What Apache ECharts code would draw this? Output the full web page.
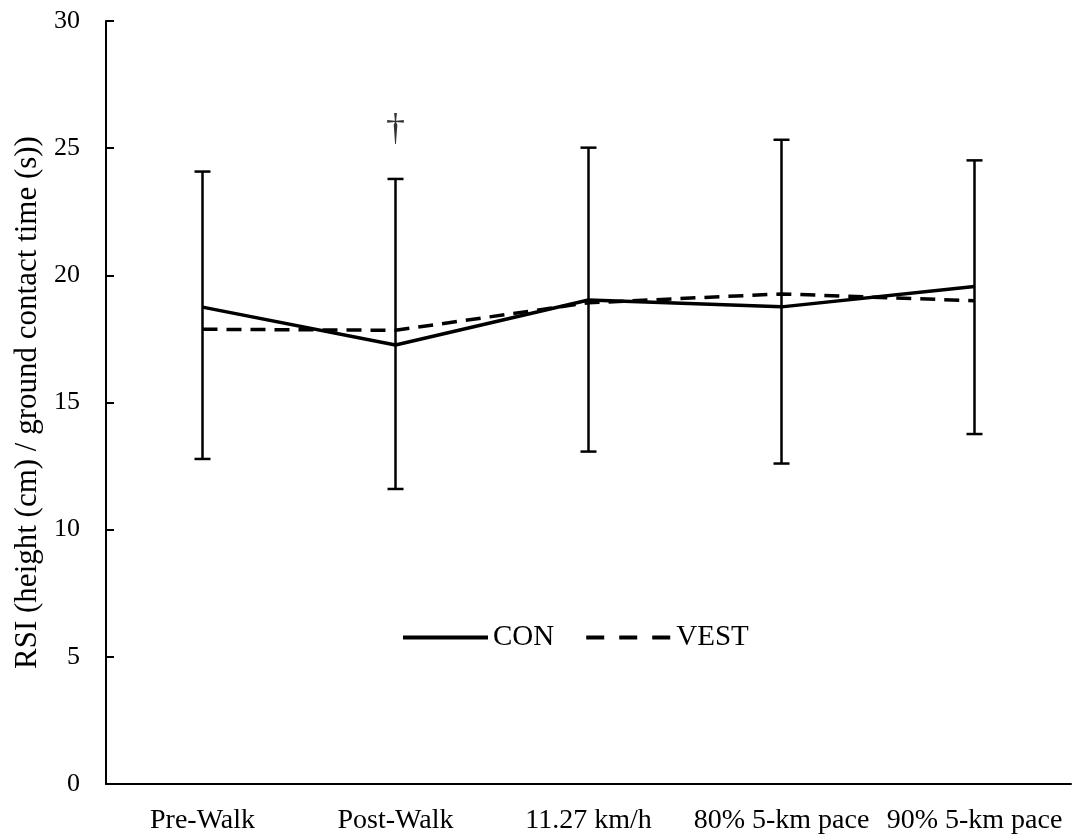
<!DOCTYPE html>
<html>
<head>
<meta charset="utf-8">
<script src="https://cdn.jsdelivr.net/npm/echarts@6/dist/echarts.min.js"></script>
<style>
html,body{margin:0;padding:0;background:#fff;}
#chart{width:1073px;height:836px;}
</style>
</head>
<body>
<div id="chart"></div>
<script>
const categories = ['Pre-Walk', 'Post-Walk', '11.27 km/h', '80% 5-km pace', '90% 5-km pace'];
const conValues = [18.75, 17.26, 19.03, 18.76, 19.56];
const vestValues = [17.88, 17.84, 18.92, 19.27, 19.0];
const errLow = [12.78, 11.6, 13.07, 12.6, 13.76];
const errHigh = [24.08, 23.79, 25.02, 25.33, 24.52];
const markCategory = 'Post-Walk';
const markValue = 25.7;
const markText = '\u2020';
const yTicks = { min: 0, max: 30, interval: 5 };

const FONT = 'Liberation Serif';
const errData = categories.map((c, i) => [i, errLow[i], errHigh[i]]);

const chart = echarts.init(document.getElementById('chart'));
chart.setOption({
  animation: false,
  backgroundColor: '#fff',
  textStyle: { fontFamily: FONT, color: '#000' },
  grid: { left: 106, right: 2, top: 21, bottom: 52 },
  legend: {
    data: [
      { name: 'CON', lineStyle: { width: 4, type: 'solid' } },
      { name: 'VEST', lineStyle: { width: 4, type: [18, 15] } }
    ],
    left: 396, top: 618,
    itemWidth: 85, itemHeight: 14, itemGap: 30,
    itemStyle: { color: 'rgba(0,0,0,0)', borderWidth: 0, opacity: 0 },
    textStyle: { fontFamily: FONT, fontSize: 29, color: '#000' }
  },
  xAxis: {
    type: 'category',
    data: categories,
    boundaryGap: true,
    axisLine: { lineStyle: { color: '#000', width: 2 } },
    axisTick: { inside: true, length: 7, alignWithLabel: false, lineStyle: { color: '#000', width: 2 } },
    axisLabel: { fontFamily: FONT, fontSize: 28, color: '#000', margin: 23, interval: 0 },
    splitLine: { show: false }
  },
  yAxis: {
    type: 'value',
    min: yTicks.min, max: yTicks.max, interval: yTicks.interval,
    name: 'RSI (height (cm) / ground contact time (s))',
    nameLocation: 'middle',
    nameGap: 62,
    nameTextStyle: { fontFamily: FONT, fontSize: 31, color: '#000' },
    axisLine: { show: true, lineStyle: { color: '#000', width: 2 } },
    axisTick: { show: true, inside: true, length: 8, lineStyle: { color: '#000', width: 2 } },
    axisLabel: { fontFamily: FONT, fontSize: 26, color: '#000', margin: 26 },
    splitLine: { show: false }
  },
  series: [
    {
      name: 'errors',
      type: 'custom',
      data: errData,
      z: 1,
      renderItem: function (params, api) {
        const x = api.value(0);
        const lo = api.coord([x, api.value(1)]);
        const hi = api.coord([x, api.value(2)]);
        const hw = 8;
        const st = { stroke: '#000', lineWidth: 2.5 };
        return {
          type: 'group',
          children: [
            { type: 'line', shape: { x1: lo[0], y1: lo[1], x2: hi[0], y2: hi[1] }, style: st },
            { type: 'line', shape: { x1: lo[0] - hw, y1: lo[1], x2: lo[0] + hw, y2: lo[1] }, style: st },
            { type: 'line', shape: { x1: hi[0] - hw, y1: hi[1], x2: hi[0] + hw, y2: hi[1] }, style: st }
          ]
        };
      }
    },
    {
      name: 'CON',
      type: 'line',
      data: conValues,
      symbol: 'none',
      z: 3,
      color: '#000',
      lineStyle: { color: '#000', width: 3.5, type: 'solid' }
    },
    {
      name: 'VEST',
      type: 'line',
      data: vestValues,
      symbol: 'none',
      z: 2,
      color: '#000',
      lineStyle: { color: '#000', width: 3.5, type: [15, 9] }
    },
    {
      name: 'mark',
      type: 'scatter',
      data: [[markCategory, markValue]],
      symbolSize: 0,
      label: {
        show: true, position: 'inside', formatter: markText,
        fontFamily: FONT, fontSize: 38, color: '#000'
      }
    }
  ]
});
</script>
</body>
</html>
